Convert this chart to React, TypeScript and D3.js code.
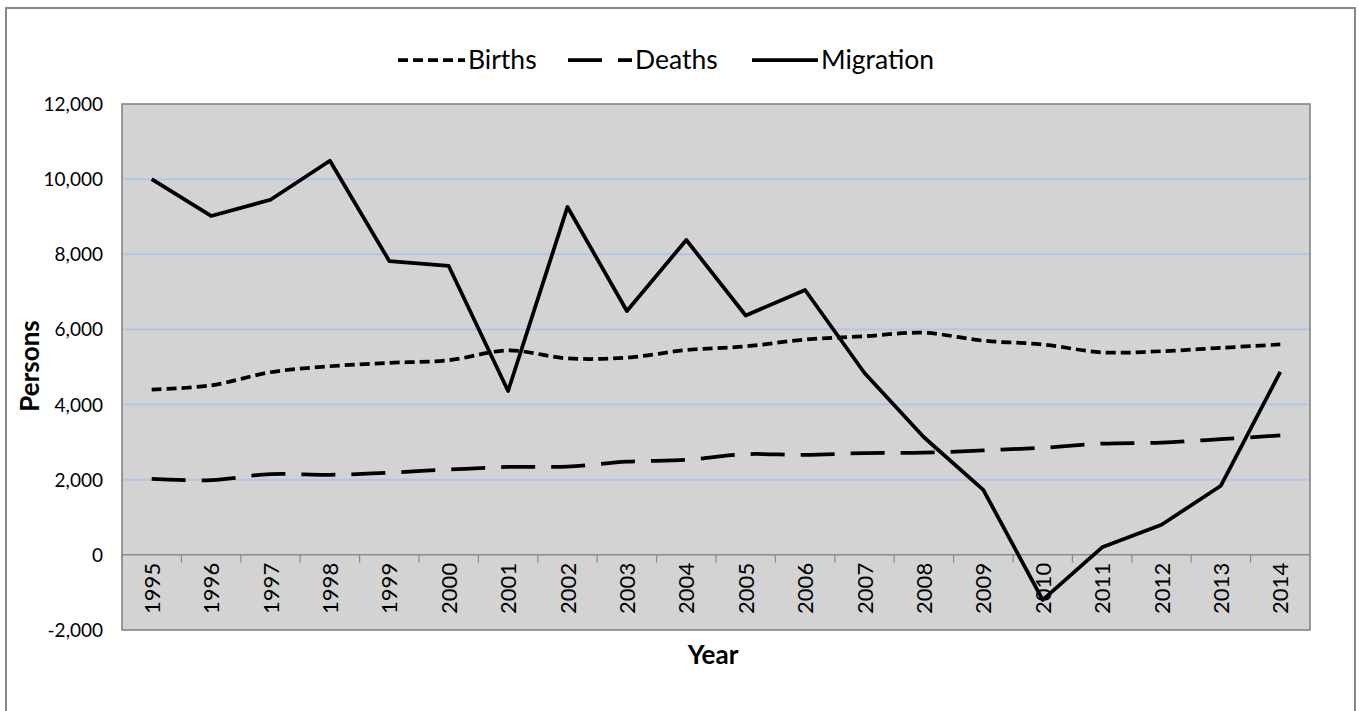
import React from 'react';
import * as d3 from 'd3';

const years = ['1995', '1996', '1997', '1998', '1999', '2000', '2001', '2002', '2003', '2004', '2005', '2006', '2007', '2008', '2009', '2010', '2011', '2012', '2013', '2014'];
const births = [4400, 4510, 4860, 5020, 5110, 5180, 5440, 5230, 5250, 5450, 5550, 5730, 5820, 5910, 5700, 5600, 5390, 5420, 5510, 5600];
const deaths = [2020, 1990, 2150, 2130, 2190, 2270, 2340, 2350, 2480, 2530, 2680, 2660, 2710, 2720, 2780, 2850, 2960, 2990, 3080, 3180];
const migration = [10000, 9020, 9450, 10490, 7820, 7690, 4360, 9260, 6490, 8380, 6370, 7050, 4840, 3130, 1730, -1200, 200, 800, 1840, 4870];
const yTicks = [-2000, 0, 2000, 4000, 6000, 8000, 10000, 12000];

const W = 1359;
const H = 711;
const plot = { left: 122, top: 104, right: 1310, bottom: 630 };
const font = 'Lato, "Open Sans", sans-serif';

const series = [
  { name: 'Births', values: births, dash: '10,5', curve: d3.curveCatmullRom },
  { name: 'Deaths', values: deaths, dash: '34,16', curve: d3.curveCatmullRom },
  { name: 'Migration', values: migration, dash: null, curve: d3.curveLinear },
];

// legend: sample line start, sample length
const legendX = [398, 568, 752];
const legendLen = [67, 64, 66];

const App = () => {
  const x = d3.scaleBand().domain(years).range([plot.left, plot.right]);
  const y = d3.scaleLinear().domain([-2000, 12000]).range([plot.bottom, plot.top]);
  const fmt = (v: number) => d3.format(',')(v).replace('\u2212', '-');
  const cx = (i: number) => (x(years[i]) as number) + x.bandwidth() / 2;

  return (
    <svg width={W} height={H} style={{ position: 'absolute', left: 0, top: 0, background: '#fff' }}>
      {/* chart border */}
      <rect x={6} y={8} width={1349} height={720} fill="#fff" stroke="#888" strokeWidth={2} />

      {/* plot area */}
      <rect x={plot.left} y={plot.top} width={plot.right - plot.left} height={plot.bottom - plot.top} fill="#d3d3d3" />
      {yTicks.filter((t) => t > 0 && t < 12000).map((t) => (
        <line key={t} x1={plot.left} x2={plot.right} y1={y(t)} y2={y(t)} stroke="#b2c5e8" strokeWidth={2} />
      ))}
      <rect x={plot.left} y={plot.top} width={plot.right - plot.left} height={plot.bottom - plot.top} fill="none" stroke="#7f7f7f" strokeWidth={1.5} />

      {/* category axis at zero */}
      <line x1={plot.left} x2={plot.right} y1={y(0)} y2={y(0)} stroke="#8c8c8c" strokeWidth={1.5} />
      {years.map((yr) => (
        <line key={'t' + yr} x1={x(yr) as number} x2={x(yr) as number} y1={y(0)} y2={y(0) + 8} stroke="#8c8c8c" strokeWidth={1.2} />
      ))}
      {years.map((yr, i) => (
        <text
          key={'l' + yr}
          transform={`translate(${cx(i) + 8},${y(0) + 8}) rotate(-90)`}
          textAnchor="end"
          fontFamily={font}
          fontSize={22}
          fill="#000"
        >
          {yr}
        </text>
      ))}

      {/* value axis labels */}
      {yTicks.map((t) => (
        <text key={'y' + t} x={103} y={y(t) + 7} textAnchor="end" fontFamily={font} fontSize={19} fill="#000">
          {fmt(t)}
        </text>
      ))}

      {/* series */}
      {series.map((s) => {
        const line = d3
          .line<number>()
          .x((_, i) => cx(i))
          .y((d) => y(d))
          .curve(s.curve);
        return (
          <path
            key={s.name}
            d={line(s.values) || ''}
            fill="none"
            stroke="#000"
            strokeWidth={3.75}
            strokeDasharray={s.dash || undefined}
            strokeLinejoin="round"
          />
        );
      })}

      {/* legend */}
      {series.map((s, i) => (
        <g key={'lg' + s.name}>
          <line x1={legendX[i]} x2={legendX[i] + legendLen[i]} y1={60} y2={60} stroke="#000" strokeWidth={3.75} strokeDasharray={s.dash || undefined} />
          <text x={legendX[i] + legendLen[i] + 3} y={69} fontFamily={font} fontSize={26.5} fill="#000">
            {s.name}
          </text>
        </g>
      ))}

      {/* axis titles */}
      <text transform="translate(39,366) rotate(-90)" textAnchor="middle" fontFamily={font} fontWeight="bold" fontSize={26} fill="#000">
        Persons
      </text>
      <text x={713} y={664} textAnchor="middle" fontFamily={font} fontWeight="bold" fontSize={26} fill="#000">
        Year
      </text>
    </svg>
  );
};

export default App;
